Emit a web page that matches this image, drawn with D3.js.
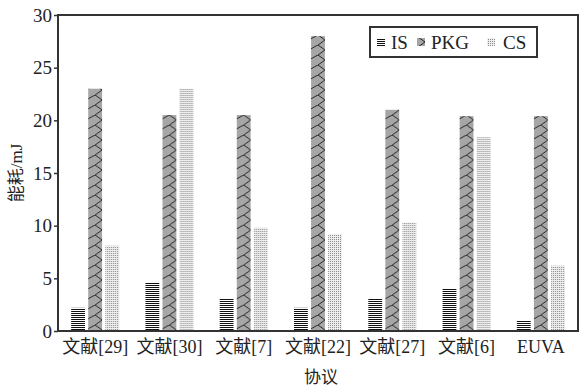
<!DOCTYPE html>
<meta charset="utf-8">
<style>
body { margin: 0; background: #fff; }
text { font-family: "Liberation Serif", "Noto Sans CJK SC", serif; fill: #222; }
</style>
<svg width="584" height="389"></svg>
<script src="https://d3js.org/d3.v7.min.js"></script>
<script>

var protocols = ["文献[29]", "文献[30]", "文献[7]", "文献[22]", "文献[27]", "文献[6]", "EUVA"];
var seriesNames = ["IS", "PKG", "CS"];
var isValues  = [2.2, 4.6, 3.1, 2.2, 3.1, 4.0, 1.0];
var pkgValues = [23.0, 20.5, 20.5, 28.0, 21.0, 20.4, 20.4];
var csValues  = [8.1, 23.0, 9.8, 9.2, 10.3, 18.4, 6.2];
var yTicks = [0, 5, 10, 15, 20, 25, 30];

var svg = d3.select("svg");
var margin = {top: 15, right: 6, bottom: 58, left: 58};
var width = 584 - margin.left - margin.right,
    height = 389 - margin.top - margin.bottom;

// patterns
var defs = svg.append("defs");
var pIS = defs.append("pattern").attr("id", "pIS")
    .attr("patternUnits", "userSpaceOnUse").attr("width", 4).attr("height", 2);
pIS.append("rect").attr("width", 4).attr("height", 2).attr("fill", "#fff");
pIS.append("rect").attr("width", 4).attr("height", 1).attr("fill", "#111");

var pPKG = defs.append("pattern").attr("id", "pPKG")
    .attr("patternUnits", "userSpaceOnUse").attr("width", 16).attr("height", 10);
pPKG.append("rect").attr("width", 16).attr("height", 10).attr("fill", "#a6a6a6");
pPKG.append("path").attr("d", "M0,0 L7,5 L0,10 M7,5 L14,1 M14,1 L16,0")
    .attr("stroke", "#1a1a1a").attr("stroke-width", 0.9).attr("fill", "none");

var pCS = defs.append("pattern").attr("id", "pCS")
    .attr("patternUnits", "userSpaceOnUse").attr("width", 2).attr("height", 2);
pCS.append("rect").attr("width", 2).attr("height", 2).attr("fill", "#eeeeee");
pCS.append("rect").attr("width", 1).attr("height", 1).attr("fill", "#8a8a8a");

var fills = {IS: "url(#pIS)", PKG: "url(#pPKG)", CS: "url(#pCS)"};

var g = svg.append("g").attr("transform", "translate(" + margin.left + "," + margin.top + ")");

var x0 = d3.scaleBand().domain(protocols).range([0, width]).padding(0);
var x1 = d3.scaleBand().domain(seriesNames).range([-24, 24]).paddingInner(0.19);
var y = d3.scaleLinear().domain([0, 30]).range([height, 0]);

var data = protocols.map(function(p, i) {
  return {name: p, IS: isValues[i], PKG: pkgValues[i], CS: csValues[i]};
});

var groups = g.selectAll(".grp").data(data).enter().append("g")
    .attr("transform", function(d) { return "translate(" + (x0(d.name) + x0.bandwidth() / 2) + ",0)"; });

groups.selectAll("rect")
  .data(function(d) { return seriesNames.map(function(s) { return {key: s, value: d[s]}; }); })
  .enter().append("rect")
    .attr("x", function(d) { return x1(d.key); })
    .attr("width", x1.bandwidth())
    .attr("y", function(d) { return y(d.value); })
    .attr("height", function(d) { return height - y(d.value); })
    .attr("fill", function(d) { return fills[d.key]; });

// y axis
var yAxis = g.append("g").call(d3.axisLeft(y).tickValues(yTicks).tickSize(4).tickPadding(2));
yAxis.select(".domain").remove();
yAxis.selectAll("line").attr("stroke", "#333").attr("stroke-width", 1.5);
yAxis.selectAll("text").style("font-size", "19px").attr("fill", "#222");

// x labels
var xAxis = g.append("g").attr("transform", "translate(0," + height + ")")
    .call(d3.axisBottom(x0).tickSize(0).tickPadding(9));
xAxis.select(".domain").remove();
xAxis.selectAll("text").style("font-size", "18px").attr("fill", "#222");

// frame
g.append("rect").attr("width", width).attr("height", height)
    .attr("fill", "none").attr("stroke", "#333").attr("stroke-width", 2);

// axis titles
svg.append("text").attr("transform", "translate(22," + (margin.top + height / 2) + ") rotate(-90)")
    .attr("text-anchor", "middle").style("font-size", "17px").text("能耗/mJ");
svg.append("text").attr("x", margin.left + width / 2 + 3).attr("y", 383)
    .attr("text-anchor", "middle").style("font-size", "17px").text("协议");

// legend
var lg = svg.append("g").attr("transform", "translate(370,27)");
lg.append("rect").attr("width", 167).attr("height", 30)
    .attr("fill", "#fff").attr("stroke", "#333").attr("stroke-width", 2);
var swatchX = [7, 47, 117];
var labelX = [21, 61, 133];
seriesNames.forEach(function(s, i) {
  lg.append("rect").attr("x", swatchX[i]).attr("y", 11).attr("width", 8).attr("height", 8)
      .attr("fill", fills[s]);
  lg.append("text").attr("x", labelX[i]).attr("y", 22)
      .style("font-size", "19px").text(s);
});

</script>
